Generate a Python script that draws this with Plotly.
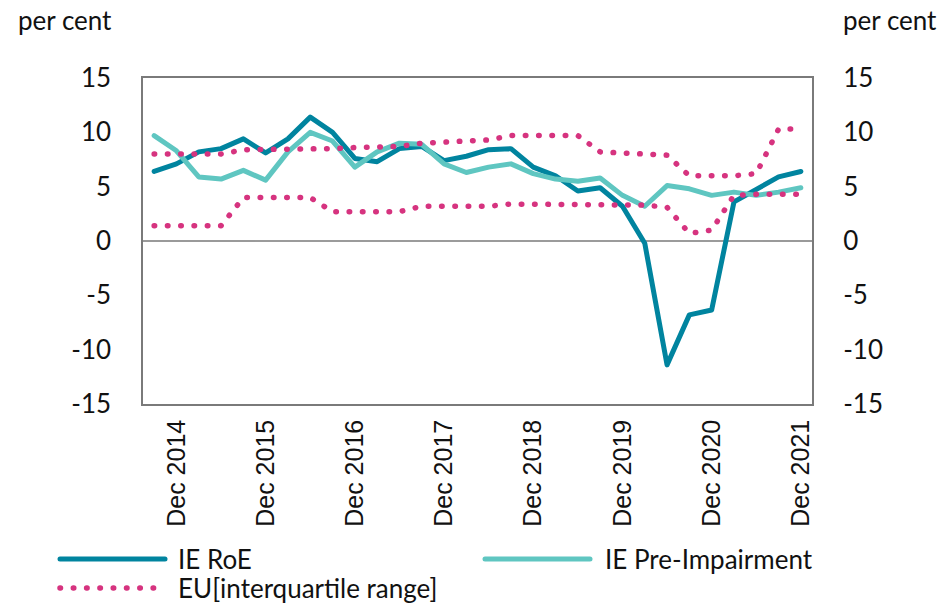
import plotly.graph_objects as go

# Quarterly periods, Sep 2014 .. Dec 2021
quarters = []
for yr in range(2014, 2022):
    for m in ["Mar", "Jun", "Sep", "Dec"]:
        quarters.append(f"{m} {yr}")
quarters = quarters[2:]  # start at Sep 2014

ie_roe = [6.4, 7.1, 8.2, 8.5, 9.4, 8.1, 9.4, 11.4, 10.0, 7.6,
          7.3, 8.5, 8.7, 7.4, 7.8, 8.4, 8.5, 6.8, 6.0, 4.6,
          4.9, 3.2, -0.2, -11.4, -6.8, -6.35, 3.6, 4.8, 5.9, 6.4]
ie_pre_imp = [9.7, 8.3, 5.9, 5.7, 6.5, 5.6, 8.2, 10.0, 9.2, 6.8,
              8.2, 9.0, 8.9, 7.1, 6.3, 6.8, 7.1, 6.2, 5.7, 5.5,
              5.8, 4.2, 3.2, 5.1, 4.8, 4.2, 4.5, 4.2, 4.5, 4.9]
eu_upper = [8.0, 8.0, 8.0, 8.0, 8.4, 8.4, 8.5, 8.5, 8.5, 8.6,
            8.6, 8.7, 9.0, 9.1, 9.1, 9.3, 9.7, 9.7, 9.7, 9.7,
            8.2, 8.1, 8.1, 7.9, 6.0, 6.0, 6.0, 6.2, 10.3, 10.3]
eu_lower = [1.4, 1.4, 1.4, 1.4, 4.0, 4.0, 4.0, 4.0, 2.7, 2.7,
            2.7, 2.7, 3.2, 3.2, 3.2, 3.2, 3.4, 3.4, 3.4, 3.4,
            3.3, 3.3, 3.3, 3.1, 0.7, 1.0, 4.2, 4.3, 4.3, 4.3]

y_ticks = [15, 10, 5, 0, -5, -10, -15]
y_ticktext = ["15", "10", "5", "0", "-5", "-10", "-15"]
tick_quarters = [q for q in quarters if q.startswith("Dec")]

C_ROE = "#00849F"
C_PRE = "#5FC6C1"
C_EU = "#D6337F"
LATO = "Lato"
DOT = "0.5px,12.8px"

fig = go.Figure()
fig.add_trace(go.Scatter(x=quarters, y=ie_roe, mode="lines", name="IE RoE",
                         line=dict(color=C_ROE, width=5)))
fig.add_trace(go.Scatter(x=quarters, y=ie_pre_imp, mode="lines", name="IE Pre-Impairment",
                         line=dict(color=C_PRE, width=5)))
fig.add_trace(go.Scatter(x=quarters, y=eu_upper, mode="lines", name="EU[interquartile range]",
                         line=dict(color=C_EU, width=5.5, dash=DOT)))
fig.add_trace(go.Scatter(x=quarters, y=eu_lower, mode="lines", name="EU lower", showlegend=False,
                         line=dict(color=C_EU, width=5.5, dash=DOT)))
# invisible trace to activate the right axis
fig.add_trace(go.Scatter(x=quarters, y=ie_roe, yaxis="y2", mode="lines", showlegend=False,
                         hoverinfo="skip", line=dict(width=0, color="rgba(0,0,0,0)")))

W, H = 941, 603
L, R, T, B = 143, 129, 78, 199
pw, ph = W - L - R, H - T - B

def px(x):
    return (x - L) / pw

def py(y):
    return (H - B - y) / ph

yax = dict(range=[-15, 15], tickvals=y_ticks, ticktext=y_ticktext, showgrid=False, zeroline=False,
           tickfont=dict(family=LATO, size=26, color="#111111"),
           ticks="outside", ticklen=0, ticklabelstandoff=25, fixedrange=True)

fig.update_layout(
    width=W, height=H,
    margin=dict(l=L, r=R, t=T, b=B, pad=0),
    plot_bgcolor="white", paper_bgcolor="white",
    showlegend=False,
    xaxis=dict(type="category", range=[-0.5, len(quarters) - 0.5],
               tickvals=tick_quarters, ticktext=tick_quarters, tickangle=-90,
               tickfont=dict(family="Liberation Sans, Arial", size=25, color="#111111"),
               showgrid=False, zeroline=False, showline=True, mirror=True,
               linecolor="#7a7a7a", linewidth=1.5, ticks="", ticklabelstandoff=4),
    yaxis=dict(**yax, side="left", showline=True, linecolor="#7a7a7a", linewidth=1.5, mirror=True),
    yaxis2=dict(**yax, side="right", overlaying="y", showline=False),
    font=dict(family=LATO, color="#111111"),
)

# zero line
fig.add_hline(y=0, line=dict(color="#7a7a7a", width=1.5), layer="below")

# axis unit titles
for xc in (65, 890):
    fig.add_annotation(x=px(xc), y=py(20), xref="paper", yref="paper", text="per cent",
                       showarrow=False, xanchor="center", yanchor="middle",
                       font=dict(family=LATO, size=26, color="#111111"))

# manual legend
leg = [
    (60, 165, 559, C_ROE, "solid", 5, 176, "IE RoE"),
    (485, 590, 559, C_PRE, "solid", 5, 603, "IE Pre-Impairment"),
    (60, 157, 588, C_EU, DOT, 5.5, 176, "EU[interquartile range]"),
]
for x0, x1, yc, col, dash, w, tx, label in leg:
    fig.add_shape(type="line", xref="paper", yref="paper", x0=px(x0), x1=px(x1),
                  y0=py(yc), y1=py(yc), line=dict(color=col, width=w, dash=dash))
    fig.add_annotation(x=px(tx), y=py(yc), xref="paper", yref="paper", text=label,
                       showarrow=False, xanchor="left", yanchor="middle",
                       font=dict(family=LATO, size=26, color="#111111"))

post = """
document.body.style.margin = '0';
var gd = document.getElementById('{plot_id}');
function rc(){
  gd.querySelectorAll('.scatterlayer .js-line, .shapelayer path').forEach(function(p){
    p.style.strokeLinecap = 'round'; p.style.strokeLinejoin = 'round';
  });
}
rc();
gd.on('plotly_afterplot', rc);
"""
fig.write_html("out.html", post_script=post, config={"displayModeBar": False})
